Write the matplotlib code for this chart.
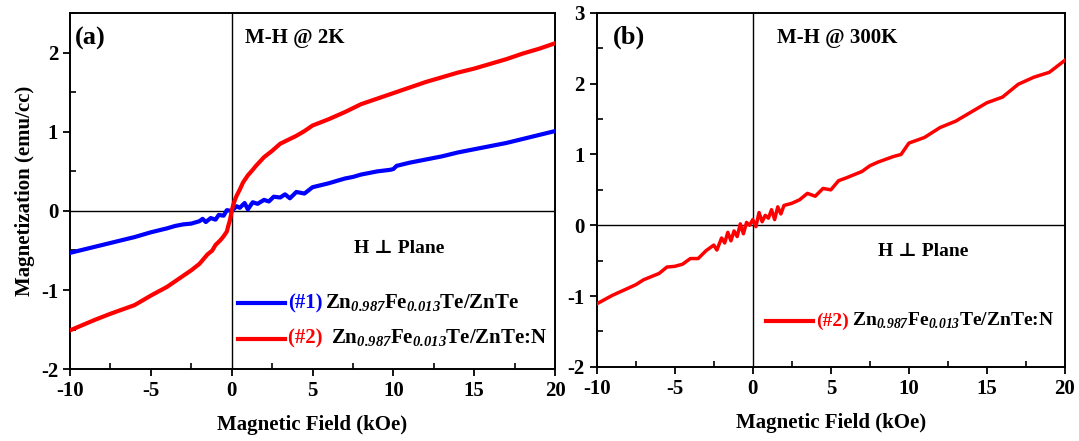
import matplotlib
matplotlib.use("Agg")
import matplotlib.pyplot as plt
from matplotlib.ticker import MultipleLocator
from matplotlib.offsetbox import AnchoredOffsetbox, HPacker, VPacker, TextArea, DrawingArea
from matplotlib.lines import Line2D

plt.rcParams['font.family'] = ['Liberation Serif', 'DejaVu Serif']
plt.rcParams['font.weight'] = 'bold'
plt.rcParams['axes.unicode_minus'] = False
plt.rcParams['mathtext.fontset'] = 'custom'
plt.rcParams['mathtext.rm'] = 'Liberation Serif:bold'
plt.rcParams['mathtext.sf'] = 'Liberation Serif:italic:bold'
plt.rcParams['mathtext.bf'] = 'Liberation Serif:bold'

# (a) M-H @ 2K, sample #1
h1 = [-10, -8, -6, -5, -4, -3.5, -3, -2.5, -2, -1.8, -1.6, -1.3, -1.0, -0.8, -0.5, -0.3, 0,
      0.3, 0.5, 0.8, 1.0, 1.3, 1.6, 2.0, 2.3, 2.6, 3.0, 3.3, 3.6, 4.0, 4.5, 5, 6, 7, 7.5,
      8, 9, 9.8, 10, 10.2, 11, 12, 13, 14, 15, 16, 17, 18, 19, 20]
m1 = [-0.53, -0.43, -0.33, -0.27, -0.22, -0.19, -0.17, -0.16, -0.13, -0.10, -0.14, -0.09,
      -0.11, -0.05, -0.06, 0.01, 0.0, 0.06, 0.04, 0.10, 0.02, 0.11, 0.09, 0.14, 0.12, 0.18,
      0.17, 0.21, 0.16, 0.24, 0.22, 0.30, 0.35, 0.41, 0.43, 0.46, 0.50, 0.52, 0.53, 0.57,
      0.61, 0.65, 0.69, 0.74, 0.78, 0.82, 0.86, 0.91, 0.96, 1.01]

# (a) M-H @ 2K, sample #2
h2 = [-10, -8.5, -7.5, -6, -5, -4, -3, -2.5, -2, -1.5, -1.2, -1.0, -0.7, -0.5, -0.3, -0.2,
      -0.1, 0, 0.1, 0.2, 0.3, 0.5, 0.7, 1.0, 1.3, 1.5, 2.0, 2.5, 3.0, 3.5, 4.0, 4.5, 5, 6,
      7, 7.5, 8, 9, 10, 11, 12, 12.5, 14, 15, 16, 17, 18, 19, 20]
m2 = [-1.51, -1.38, -1.30, -1.19, -1.07, -0.96, -0.82, -0.75, -0.67, -0.55, -0.50, -0.43,
      -0.37, -0.32, -0.26, -0.18, -0.11, 0.0, 0.08, 0.14, 0.19, 0.27, 0.36, 0.45, 0.52,
      0.57, 0.68, 0.76, 0.85, 0.90, 0.95, 1.01, 1.08, 1.16, 1.25, 1.30, 1.35, 1.42, 1.49,
      1.56, 1.63, 1.66, 1.75, 1.80, 1.86, 1.92, 1.99, 2.05, 2.12]

# (b) M-H @ 300K, sample #2
h3 = [-10, -9, -8, -7.5, -7, -6, -5.5, -5, -4.5, -4, -3.5, -3, -2.5, -2.3, -2.0, -1.8,
      -1.6, -1.4, -1.2, -1.0, -0.8, -0.6, -0.4, -0.2, 0, 0.2, 0.4, 0.6, 0.8, 1.0, 1.2,
      1.4, 1.6, 1.8, 2.0, 2.5, 3.0, 3.5, 4.0, 4.5, 5.0, 5.5, 6, 7, 7.5, 8, 9, 9.5, 10, 11,
      12, 13, 14, 15, 16, 17, 18, 19, 20]
m3 = [-1.11, -0.99, -0.89, -0.84, -0.77, -0.68, -0.59, -0.58, -0.55, -0.47, -0.47, -0.36,
      -0.28, -0.35, -0.18, -0.25, -0.10, -0.22, -0.08, -0.16, 0.02, -0.12, 0.04, 0.0, 0.08,
      -0.02, 0.18, 0.05, 0.14, 0.10, 0.22, 0.08, 0.26, 0.16, 0.28, 0.31, 0.36, 0.45, 0.41,
      0.52, 0.50, 0.63, 0.67, 0.76, 0.84, 0.89, 0.97, 1.00, 1.16, 1.24, 1.38, 1.47, 1.60,
      1.73, 1.81, 1.99, 2.09, 2.16, 2.33]

fs = 15
fig = plt.figure(figsize=(10.79, 4.41), dpi=100)
ax1 = fig.add_axes([0.0649, 0.163, 0.4495, 0.807])
ax2 = fig.add_axes([0.553, 0.168, 0.434, 0.803])


def setup(ax, ylo, yhi):
    ax.set_xlim(-10, 20)
    ax.set_ylim(ylo, yhi)
    ax.axhline(0, color='black', lw=1, zorder=1)
    ax.axvline(0, color='black', lw=1, zorder=1)
    ax.xaxis.set_major_locator(MultipleLocator(5))
    ax.xaxis.set_minor_locator(MultipleLocator(2.5))
    ax.yaxis.set_major_locator(MultipleLocator(1))
    ax.yaxis.set_minor_locator(MultipleLocator(0.5))
    ax.tick_params(which='major', direction='out', length=5, width=1.3, labelsize=fs)
    ax.tick_params(which='minor', direction='in', length=4, width=1.2)
    for s in ax.spines.values():
        s.set_linewidth(1.4)
    for lab in ax.get_xticklabels() + ax.get_yticklabels():
        lab.set_fontweight('bold')
    ax.set_xlabel('Magnetic Field (kOe)', fontsize=fs, fontweight='bold', labelpad=10)


def legend_row(color, tag, rest, size):
    da = DrawingArea(34, 8, 0, 0)
    da.add_artist(Line2D([0, 34], [4, 4], color=color, lw=3))
    t1 = TextArea(tag, textprops=dict(color=color, fontsize=size, fontweight='bold'))
    t2 = TextArea(rest, textprops=dict(color='black', fontsize=size, fontweight='bold'))
    return HPacker(children=[da, t1, t2], pad=0, sep=2, align='center')


formula = r'Zn$_{\mathsf{0.987}}$Fe$_{\mathsf{0.013}}$Te/ZnTe'

# panel (a)
setup(ax1, -2, 2.5)
ax1.plot(h1, m1, color='#0000ff', lw=3, zorder=3)
ax1.plot(h2, m2, color='#ff0000', lw=3, zorder=3)
ax1.set_ylabel('Magnetization (emu/cc)', fontsize=fs, fontweight='bold')
ax1.text(0.01, 0.93, '(a)', transform=ax1.transAxes, fontsize=19, fontweight='bold', va='center')
ax1.text(0.36, 0.93, 'M-H @ 2K', transform=ax1.transAxes, fontsize=15, fontweight='bold', va='center')
ax1.text(0.585, 0.34, 'H ⊥ Plane', transform=ax1.transAxes, fontsize=14, fontweight='bold', va='center')
rows = VPacker(children=[legend_row('#0000ff', '(#1)', formula, 15),
                         legend_row('#ff0000', '(#2) ', formula + ':N', 15)],
               pad=0, sep=10, align='left')
ab = AnchoredOffsetbox(loc='lower left', child=rows, frameon=False,
                       bbox_to_anchor=(0.335, 0.04), bbox_transform=ax1.transAxes, borderpad=0)
ax1.add_artist(ab)

# panel (b)
setup(ax2, -2, 3)
ax2.plot(h3, m3, color='#ff0000', lw=2.5, zorder=3)
ax2.text(0.035, 0.93, '(b)', transform=ax2.transAxes, fontsize=19, fontweight='bold', va='center')
ax2.text(0.385, 0.93, 'M-H @ 300K', transform=ax2.transAxes, fontsize=15, fontweight='bold', va='center')
ax2.text(0.6, 0.325, 'H ⊥ Plane', transform=ax2.transAxes, fontsize=14, fontweight='bold', va='center')
ab2 = AnchoredOffsetbox(loc='center left', child=legend_row('#ff0000', '(#2)', formula + ':N', 14),
                        frameon=False, bbox_to_anchor=(0.35, 0.13),
                        bbox_transform=ax2.transAxes, borderpad=0)
ax2.add_artist(ab2)

fig.savefig('out.png', dpi=100)
